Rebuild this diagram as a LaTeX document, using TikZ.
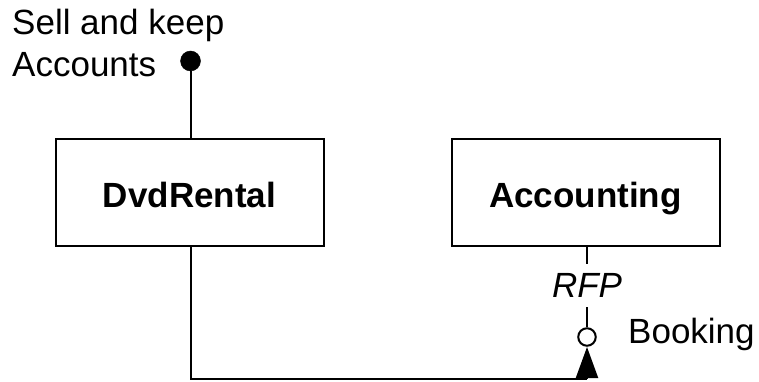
\documentclass[tikz,border=0pt]{standalone}
\usepackage{fontspec}
\setmainfont{Liberation Sans}
\usetikzlibrary{arrows.meta}
\begin{document}
\begin{tikzpicture}[x=1pt,y=-1pt,
  every node/.style={font=\fontsize{35}{42}\selectfont},
  comp/.style={draw,line width=2pt,minimum width=268pt,minimum height=107pt,inner sep=0pt,text height=29pt,text depth=0pt,font=\fontsize{35}{42}\selectfont\bfseries},
  conn/.style={line width=2pt},
  ball/.style={circle,fill=black,draw=black,inner sep=0pt,minimum size=20pt},
  socket/.style={circle,draw=black,line width=2pt,fill=white,inner sep=0pt,minimum size=17.5pt},
  lbl/.style={inner sep=0pt}]
\useasboundingbox (0,0) rectangle (759,382);
\node[comp] (dvd) at (189.5,192.5) {DvdRental};
\node[comp] (acc) at (585.5,192.5) {Accounting};
\node[ball] (dot) at (190.5,61) {};
\node[lbl,anchor=north west,align=left] (sell) at (12,8.5) {Sell and keep\\Accounts};
\node[lbl,text height=24pt,text depth=0pt,font=\fontsize{35}{42}\selectfont\itshape] (rfp) at (587,285) {RFP};
\node[socket] (sock) at (587,337) {};
\node[lbl,anchor=west] (book) at (628,334) {Booking};
\coordinate (corner) at (587,379);
\coordinate (tip) at (587,347);
\draw[conn] (dot) -- (dvd.north -| dot);
\draw[conn] (acc.south -| rfp) -- ([yshift=9pt]rfp.north);
\draw[conn] ([yshift=-10pt]rfp.south) -- (sock.north);
\draw[conn] (dvd.south -| dot) |- (corner);
\draw[conn,-{Triangle[length=31pt,width=22pt]}] (corner) -- (tip);
\end{tikzpicture}
\end{document}
